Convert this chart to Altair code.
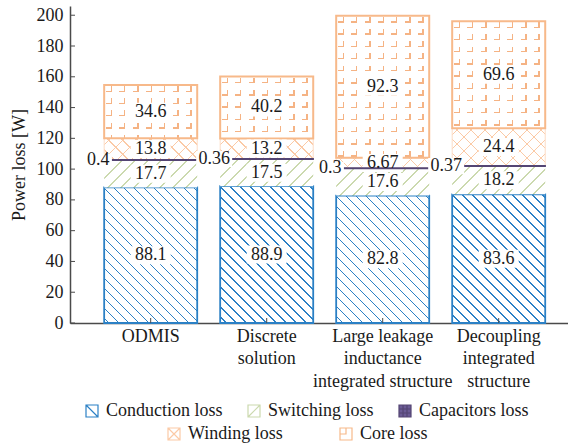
import math
import altair as alt
import pandas as pd

# ---------------- data ----------------
categories = ["ODMIS", "Discrete|solution",
              "Large leakage|inductance|integrated structure",
              "Decoupling|integrated|structure"]
series_names = ["Conduction loss", "Switching loss", "Capacitors loss",
                "Winding loss", "Core loss"]
conduction = [88.1, 88.9, 82.8, 83.6]
switching = [17.7, 17.5, 17.6, 18.2]
capacitors = [0.4, 0.36, 0.3, 0.37]
winding = [13.8, 13.2, 6.67, 24.4]
core = [34.6, 40.2, 92.3, 69.6]
y_ticks = [0, 20, 40, 60, 80, 100, 120, 140, 160, 180, 200]

# ---------------- layout / style ----------------
FONT = "'Liberation Serif', 'Times New Roman', 'DejaVu Serif', serif"
W, H = 498, 317
Y_MAX = 206
PAD_IN, PAD_OUT, ALIGN = 0.198, 0.2455, 0.6
step = W / (len(categories) - PAD_IN + 2 * PAD_OUT)
BW = step * (1 - PAD_IN)
PPU = H / Y_MAX

BLUE = "#2b80c5"
GREEN = "#cbd9ae"
PURPLE = "#544573"
WIND = "#fbcaa6"
CORE = "#f7b98a"
CORE_PAT = "#f5b384"
AXIS = "#4a4a4a"
TXT = "#1a1a1a"
CLEAR = "rgba(255,255,255,0)"

rows = []
for i, cat in enumerate(categories):
    base = 0.0
    for s, vals in zip(series_names, [conduction, switching, capacitors, winding, core]):
        v = vals[i]
        rows.append(dict(cat=cat, series=s, value=v, y0=base, y1=base + v, label=f"{v:g}"))
        base += v
df = pd.DataFrame(rows)


def stripe_stops(L, P, offset, width, on, off):
    ivs = []
    j = -3
    while True:
        a = offset + j * P
        if a > L:
            break
        b = a + width
        a2, b2 = max(a, 0.0), min(b, L)
        if b2 > a2:
            ivs.append((round(a2 / L, 5), round(b2 / L, 5)))
        j += 1
    stops = [{"offset": 0, "color": off}]
    for a, b in ivs:
        stops += [{"offset": a, "color": off}, {"offset": a, "color": on},
                  {"offset": b, "color": on}, {"offset": b, "color": off}]
    stops.append({"offset": 1, "color": off})
    return stops


def diag_gradient(w, h, direction, spacing, width, on, off, offset=0.0):
    k = (w + h) / (w * w + h * h)
    L = (w + h) / math.sqrt(2)
    if direction == "/":
        x1, y1, x2, y2 = 0, 0, k * w, k * h
    else:
        x1, y1, x2, y2 = 1, 0, 1 - k * w, k * h
    return {"gradient": "linear", "x1": x1, "y1": y1, "x2": x2, "y2": y2,
            "stops": stripe_stops(L, spacing, offset, width, on, off)}


def axis_gradient(L, along_x, period, offset, width, on, off):
    if along_x:
        x1, y1, x2, y2 = 0, 0, 1, 0
    else:
        x1, y1, x2, y2 = 0, 0, 0, 1
    return {"gradient": "linear", "x1": x1, "y1": y1, "x2": x2, "y2": y2,
            "stops": stripe_stops(L, period, offset, width, on, off)}


xscale = alt.Scale(paddingInner=PAD_IN, paddingOuter=PAD_OUT, align=ALIGN)
yscale = alt.Scale(domain=[0, Y_MAX], nice=False, zero=True)
xaxis = alt.Axis(title=None, labelExpr="split(datum.label, '|')", labelAngle=0,
                 labelFont=FONT, labelFontSize=18, labelColor=TXT, labelLineHeight=22.5,
                 labelPadding=4, labelOverlap=False, labelLimit=300, ticks=False,
                 domainColor=AXIS, domainWidth=1.5, grid=False)
yaxis = alt.Axis(values=y_ticks, title="Power loss [W]", titleFont=FONT, titleFontSize=18,
                 titleFontWeight="normal", titleColor=TXT, titleX=-51, titleY=H / 2,
                 titleBaseline="middle", titleAlign="center", titleAngle=270,
                 labelFont=FONT, labelFontSize=18, labelColor=TXT, labelPadding=7,
                 ticks=False, domainColor=AXIS, domainWidth=1.5, grid=False)
X = alt.X("cat:N", sort=categories, scale=xscale, axis=xaxis)
Y = alt.Y("y0:Q", scale=yscale, axis=yaxis)

base = alt.Chart(df)


def bar(filt, **mk):
    return base.transform_filter(filt).mark_bar(**mk).encode(x=X, y=Y, y2="y1:Q")


layers = []
S2 = math.sqrt(2)

# conduction: "\" hatch
for i, c in enumerate(categories):
    h = conduction[i] * PPU
    g = diag_gradient(BW, h, "\\", 10 / S2, 0.85, BLUE, "white", 2.0)
    layers.append(bar((alt.datum.series == "Conduction loss") & (alt.datum.cat == c),
                      fill=g, stroke=BLUE, strokeWidth=1.8))
# switching: "/" hatch
for i, c in enumerate(categories):
    h = switching[i] * PPU
    g = diag_gradient(BW, h, "/", 13 / S2, 1.0, GREEN, "white", 3.0)
    layers.append(bar((alt.datum.series == "Switching loss") & (alt.datum.cat == c), fill=g))
# winding: cross hatch
for i, c in enumerate(categories):
    h = winding[i] * PPU
    g1 = diag_gradient(BW, h, "\\", 14 / S2, 0.9, WIND, "white", 4.0)
    g2 = diag_gradient(BW, h, "/", 14 / S2, 0.9, WIND, CLEAR, 4.0)
    filt = (alt.datum.series == "Winding loss") & (alt.datum.cat == c)
    layers.append(bar(filt, fill=g1))
    layers.append(bar(filt, fill=g2, stroke="#fcdcc6", strokeWidth=1))
# core: small corner pattern
core_filt = alt.datum.series == "Core loss"
PX, PY, OX, OY = 13.3, 12.2, 6.5, 5.5
ARM, LW = 4.5, 1.4
layers.append(bar(core_filt, fill=axis_gradient(BW, True, PX, OX, LW, CORE_PAT, "white")))
for i, c in enumerate(categories):
    h = core[i] * PPU
    filt = (alt.datum.series == "Core loss") & (alt.datum.cat == c)
    layers.append(bar(filt, fill=axis_gradient(h, False, PY, OY - ARM, ARM + LW, CLEAR, "white")))
    layers.append(bar(filt, fill=axis_gradient(h, False, PY, OY, LW, CORE_PAT, CLEAR)))
layers.append(bar(core_filt, fill=axis_gradient(BW, True, PX, OX - ARM, ARM + LW, CLEAR, "white")))
layers.append(bar(core_filt, fillOpacity=0, stroke=CORE, strokeWidth=2))

# white boxes behind segment labels
BOX = "M-1,-0.45H1V0.45H-1Z"
seg = base.transform_filter(alt.datum.series != "Capacitors loss").transform_calculate(
    mid="(datum.y0 + datum.y1) / 2",
    bs="pow(length(datum.label) * 9 + 4, 2)")
layers.append(seg.mark_point(shape=BOX, filled=True, fill="white", opacity=1, strokeWidth=0).encode(
    x=X, y=alt.Y("mid:Q", scale=yscale, axis=yaxis), size=alt.Size("bs:Q", scale=None, legend=None)))

# capacitor line
layers.append(bar(alt.datum.series == "Capacitors loss", fill=PURPLE, stroke=PURPLE, strokeWidth=1.4))

capd = base.transform_filter(alt.datum.series == "Capacitors loss").transform_calculate(
    mid="(datum.y0 + datum.y1) / 2",
    bs="pow(length(datum.label) * 8.5 + 2, 2)")
XC = alt.X("cat:N", sort=categories, scale=xscale, axis=xaxis, bandPosition=0)
layers.append(capd.mark_point(shape=BOX, filled=True, fill="white", opacity=1, strokeWidth=0, xOffset=-6).encode(
    x=XC, y=alt.Y("mid:Q", scale=yscale, axis=yaxis), size=alt.Size("bs:Q", scale=None, legend=None)))

# labels
layers.append(seg.mark_text(font=FONT, fontSize=18, color=TXT, baseline="middle").encode(
    x=X, y=alt.Y("mid:Q", scale=yscale, axis=yaxis), text="label:N"))
layers.append(capd.mark_text(font=FONT, fontSize=18, color=TXT, baseline="middle", dx=-6).encode(
    x=XC, y=alt.Y("mid:Q", scale=yscale, axis=yaxis), text="label:N"))

# inward ticks
tick_df = pd.DataFrame({"v": y_ticks})
layers.append(alt.Chart(tick_df).mark_rule(color=AXIS, strokeWidth=1).encode(
    y=alt.Y("v:Q", scale=yscale, axis=yaxis), x=alt.value(0), x2=alt.value(5)))
layers.append(base.transform_filter(alt.datum.series == "Conduction loss").mark_rule(
    color=AXIS, strokeWidth=1).encode(x=X, y=alt.value(H), y2=alt.value(H - 5)))

# legends
SQ = "M-1,-1H1V1H-1Z"
GRID = "M-0.33,-1V1M0.33,-1V1M-1,-0.33H1M-1,0.33H1"
leg_specs = [
    (series_names[:3], ["white", "white", "#6b5b95"], [BLUE, GREEN, PURPLE],
     [SQ + "M-1,-1L1,1", SQ + "M-1,1L1,-1", SQ + GRID], 13, 396, 22),
    (series_names[3:], ["white", "white"], [WIND, CORE],
     [SQ + "M-1,-1L1,1M-1,1L1,-1", SQ + "M0,-1V0H-1"], 95, 419, 54),
]
for dom, fills, strokes, shapes, lx, ly, cp in leg_specs:
    lg = alt.Legend(title=None, orient="none", legendX=lx, legendY=ly, direction="horizontal",
                    symbolSize=144, symbolStrokeWidth=1.2, labelFont=FONT, labelFontSize=18,
                    labelColor=TXT, labelOffset=5, columnPadding=cp, padding=0, labelLimit=300)
    layers.append(base.transform_filter("false").mark_point(filled=True, opacity=1).encode(
        fill=alt.Fill("series:N", scale=alt.Scale(domain=dom, range=fills), legend=lg),
        stroke=alt.Stroke("series:N", scale=alt.Scale(domain=dom, range=strokes), legend=lg),
        shape=alt.Shape("series:N", scale=alt.Scale(domain=dom, range=shapes), legend=lg)))

chart = alt.layer(*layers).resolve_scale(
    fill="independent", stroke="independent", shape="independent"
).properties(
    width=W, height=H, autosize="none",
    padding={"left": 70, "top": 6, "right": 0, "bottom": 123},
    background="white",
).configure_view(stroke=None)

chart.save("out.html", embed_options={"renderer": "svg", "actions": False})
